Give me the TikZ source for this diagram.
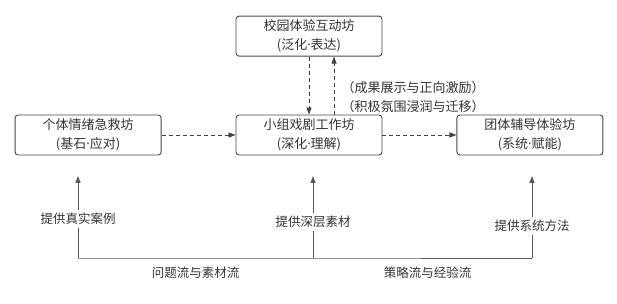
\documentclass[tikz,border=0pt]{standalone}
\usepackage{fontspec}
\setmainfont{Noto Sans CJK SC}
\newfontfamily\latinfont{Noto Sans}
\newcommand{\middot}{{\latinfont\char"00B7}}
\usetikzlibrary{arrows.meta, positioning}

\begin{document}
\begin{tikzpicture}[x=1pt, y=1pt, node distance=58pt and 74pt, font=\fontsize{13}{19}\selectfont,
          fangbox/.style={rectangle, draw=black!72, fill=white, line width=0.9pt, rounded corners=3pt, minimum width=146pt, minimum height=40pt, align=center, text=black!80},
          flowarrow/.style={-{Triangle[length=7pt,width=5pt]}, dash pattern=on 4pt off 3pt, line width=0.8pt, draw=black!75},
          feedarrow/.style={-{Triangle[length=7pt,width=5pt]}, line width=0.9pt, draw=black!65},
          tag/.style={font=\fontsize{12.5}{15}\selectfont, text=black!80}]
        \useasboundingbox (0,0) rectangle (617,304);

        \node [fangbox] (drama) at (309,169) {小组戏剧工作坊\\(深化\middot 理解)};
        \node [fangbox, above=of drama] (campus) {校园体验互动坊\\(泛化\middot 表达)};
        \node [fangbox, left=of drama] (rescue) {个体情绪急救坊\\(基石\middot 应对)};
        \node [fangbox, right=of drama] (group) {团体辅导体验坊\\(系统\middot 赋能)};

        \draw [flowarrow] (rescue) -- (drama);
        \draw [flowarrow] (drama) -- (group);
        \draw [flowarrow] (campus.south) -- (drama.north);
        \draw [flowarrow] ([xshift=25pt]drama.north) -- node [pos=0.3, right=4pt, align=left, text=black!80] {（成果展示与正向激励）\\（积极氛围浸润与迁移）} ([xshift=25pt]campus.south);

        % bottom feeding line
        \coordinate (busL) at (78,46);
        \coordinate (busM) at (313,46);
        \coordinate (busR) at (532,46);
        \coordinate (tipL) at (78,128);
        \coordinate (tipM) at (313,128);
        \coordinate (tipR) at (532,128);

        \draw [feedarrow, -] (busL) -- node [tag, below=5pt] {问题流与素材流} (busM) -- node [tag, below=5pt, xshift=5pt] {策略流与经验流} (busR);
        \draw [feedarrow] (busL) -- node [tag, fill=white, pos=0.48] {提供真实案例} (tipL);
        \draw [feedarrow] (busM) -- node [tag, fill=white, pos=0.44] {提供深层素材} (tipM);
        \draw [feedarrow] (busR) -- node [tag, fill=white, pos=0.39] {提供系统方法} (tipR);
      \end{tikzpicture}
\end{document}
